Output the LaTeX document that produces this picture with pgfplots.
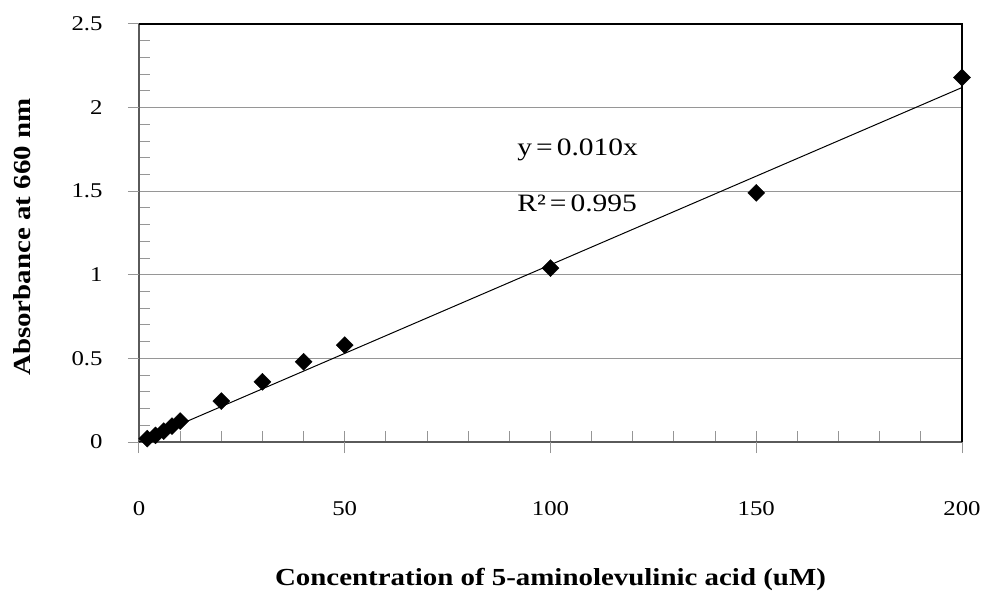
\documentclass[border=0pt]{standalone}
\usepackage{pgfplots}
\pgfplotsset{compat=1.18}
\usepackage{fontspec}
\setmainfont{Liberation Serif}[FakeStretch=1.18]
\definecolor{axgray}{RGB}{90,90,90}
\definecolor{gridgray}{RGB}{150,150,150}
\begin{document}
\begin{tikzpicture}
\path[use as bounding box] (-139bp,-155bp) rectangle (844bp,442bp);
\begin{axis}[
  scale only axis,
  width=823bp, height=418bp,
  xmin=0, xmax=200, ymin=0, ymax=2.5,
  axis x line=bottom, axis y line=left,
  axis line style={axgray, line width=1.3bp, -},
  xtick={0,50,100,150,200},
  ytick={0,0.5,1,1.5,2,2.5},
  minor x tick num=4,
  minor y tick num=4,
  tick align=inside,
  major tick length=11bp,
  minor tick length=11bp,
  tick style={gridgray, line width=1bp},
  ymajorgrids,
  major grid style={gridgray, line width=1bp},
  extra x ticks={0,50,100,150,200},
  extra x tick labels={},
  extra x tick style={tick align=outside, xmajorgrids=false},
  extra y ticks={0,0.5,1,1.5,2,2.5},
  extra y tick labels={},
  extra y tick style={tick align=outside, ymajorgrids=false},
  /pgf/number format/assume math mode=true,
  ticklabel style={font=\fontsize{21bp}{25bp}\selectfont},
  xticklabel style={yshift=-56bp},
  yticklabel style={xshift=-33bp, /pgf/number format/fixed},
  xlabel={\textbf{Concentration of 5-aminolevulinic acid (uM)}},
  ylabel={\textbf{Absorbance at 660 nm}},
  xlabel style={at={(axis description cs:0.5,-0.33)}, anchor=center, font=\fontsize{24.5bp}{29bp}\selectfont},
  ylabel style={at={(axis description cs:-0.142,0.49)}, anchor=center, rotate=0, font=\fontsize{24.5bp}{29bp}\selectfont},
  clip=false,
]
\addplot[black, line width=1bp, no marks] coordinates {(0,0) (200,2.12)};
\addplot[only marks, mark=square*, mark size=6bp, mark options={rotate=45, fill=black, draw=black}] coordinates {
(2,0.02) (4,0.04) (6,0.065) (8,0.095) (10,0.125) (20,0.245) (30,0.36) (40,0.48) (50,0.58) (100,1.04) (150,1.49) (200,2.18)
};
\draw[black, line width=1.6bp] (rel axis cs:0,1) -- (rel axis cs:1,1) -- (rel axis cs:1,0);
\node[anchor=base west, font=\fontsize{25bp}{29bp}\selectfont, inner sep=0pt] at (axis cs:91.9,1.716) {y\hspace{4bp}=\hspace{4bp}0.010x};
\node[anchor=base west, font=\fontsize{25bp}{29bp}\selectfont, inner sep=0pt] at (axis cs:91.9,1.376) {R²\hspace{4bp}=\hspace{4bp}0.995};
\end{axis}
\end{tikzpicture}
\end{document}
